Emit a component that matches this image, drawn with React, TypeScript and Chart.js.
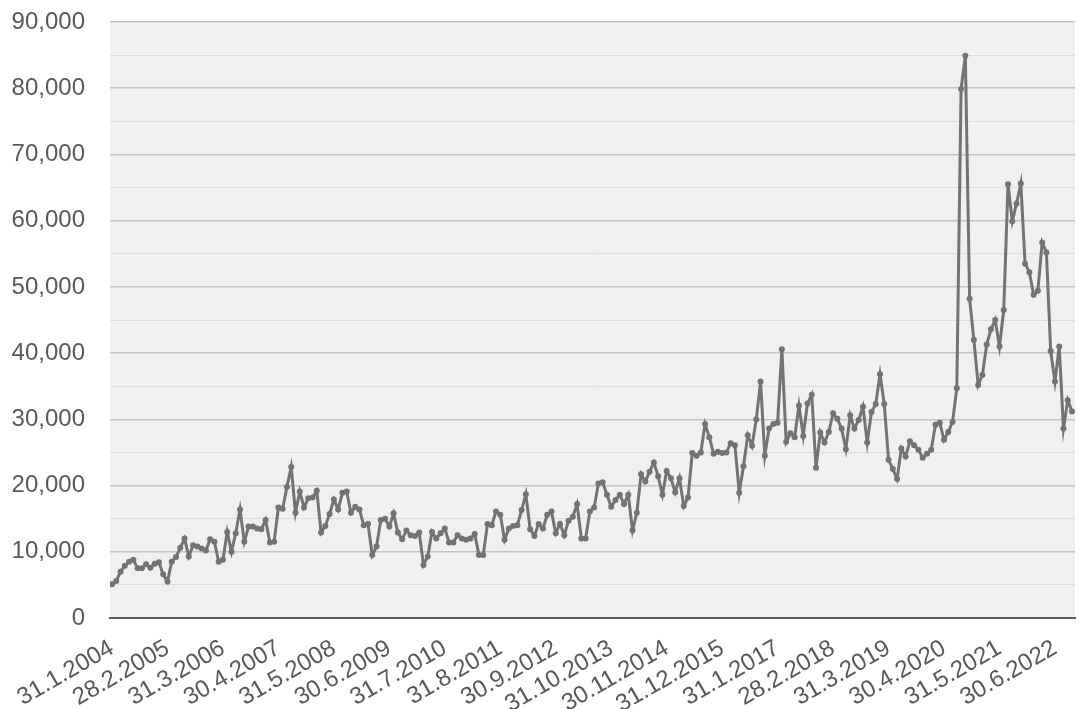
import React, { useEffect, useRef } from "react";
import { Chart, registerables } from "chart.js";

Chart.register(...registerables);

// Monthly values, Jan 2004 – Oct 2022
const values2004to2008 = [
  5100, 5600, 7000, 7900, 8500, 8800, 7500, 7500, 8100, 7600,
  8200, 8400, 6600, 5500, 8500, 9200, 10600, 12000, 9300, 11000,
  10800, 10500, 10200, 11900, 11500, 8500, 8800, 13000, 10000, 12800,
  16400, 11500, 13800, 13800, 13500, 13400, 14800, 11400, 11500, 16700,
  16500, 19800, 22800, 15900, 19100, 16700, 18100, 18200, 19200, 12900,
  13900, 15700, 17900, 16400, 18900, 19100, 15900,
];
const values2008to2013 = [
  16800, 16400, 14000, 14200, 9500, 10800, 14800, 15000, 13800, 15800,
  12900, 11900, 13200, 12500, 12400, 12900, 8000, 9300, 13000, 12000,
  12800, 13500, 11400, 11400, 12500, 12000, 11800, 12000, 12700, 9500,
  9500, 14200, 14000, 16100, 15600, 11800, 13500, 13900, 14000, 16300,
  18700, 13400, 12400, 14200, 13500, 15600, 16100, 12800, 14200, 12500,
  14700, 15300, 17200, 12000, 12000, 16100, 16700,
];
const values2013to2017 = [
  20300, 20500, 18600, 16800, 17800, 18600, 17200, 18600, 13200, 15900,
  21700, 20600, 22100, 23500, 21400, 18600, 22200, 21100, 19000, 21100,
  16900, 18200, 24900, 24500, 25000, 29300, 27300, 24800, 25100, 24900,
  25000, 26400, 26100, 18900, 22900, 27600, 26000, 30000, 35700, 24500,
  28600, 29300, 29500, 40600, 26600, 27900, 27300, 32100, 27500, 32400,
  33700, 22700, 28000, 26500, 28100, 30900,
];
const values2018to2022 = [
  30100, 28600, 25500, 30600, 28600, 29900, 31900, 26500, 31100, 32300,
  36800, 32300, 23900, 22500, 21000, 25600, 24400, 26700, 26100, 25400,
  24200, 24800, 25400, 29200, 29500, 26900, 28100, 29600, 34700, 79900,
  84900, 48200, 42000, 35200, 36700, 41300, 43600, 45000, 41000, 46500,
  65500, 59900, 62600, 65600, 53500, 52200, 48800, 49400, 56700, 55200,
  40300, 35700, 41000, 28600, 32900, 31200,
];

const tickLabels = [
  "31.1.2004", "28.2.2005", "31.3.2006", "30.4.2007", "31.5.2008", "30.6.2009",
  "31.7.2010", "31.8.2011", "30.9.2012", "31.10.2013", "30.11.2014", "31.12.2015",
  "31.1.2017", "28.2.2018", "31.3.2019", "30.4.2020", "31.5.2021", "30.6.2022",
];
const monthsPerTick = 13;

const values = [
  ...values2004to2008,
  ...values2008to2013,
  ...values2013to2017,
  ...values2018to2022,
];

export default function App() {
  const ref = useRef<HTMLCanvasElement>(null);

  useEffect(() => {
    document.body.style.margin = "0";
    const canvas = ref.current;
    if (!canvas) return;

    const plotBg = {
      id: "plotBg",
      beforeDraw(chart: any) {
        const { ctx, chartArea: a } = chart;
        ctx.save();
        ctx.fillStyle = "#f0f0f0";
        ctx.fillRect(a.left, a.top, a.right - a.left, a.bottom - a.top);
        ctx.restore();
      },
    };

    const lineColor = "#737373";
    const textColor = "#595959";

    const chart = new Chart(canvas, {
      type: "line",
      data: {
        datasets: [
          {
            data: values.map((v, i) => ({ x: i, y: v })),
            borderColor: lineColor,
            backgroundColor: lineColor,
            borderWidth: 3,
            pointRadius: 3,
            pointBorderWidth: 0,
            pointBackgroundColor: lineColor,
            tension: 0,
          },
        ],
      },
      options: {
        animation: false,
        responsive: false,
        layout: { padding: { top: 22, right: 0, left: 0, bottom: 0 } },
        plugins: {
          legend: { display: false },
          tooltip: { enabled: false },
        },
        scales: {
          x: {
            type: "linear",
            min: -0.47,
            max: values.length - 1 + 0.7,
            grid: { display: false, drawTicks: false },
            border: { display: true, color: "#5a5a5a", width: 2 },
            afterBuildTicks: (scale: any) => {
              scale.ticks = tickLabels.map((_, k) => ({ value: k * monthsPerTick }));
            },
            afterFit: (scale: any) => {
              scale.height = 91;
              scale.paddingRight = 0;
            },
            ticks: {
              autoSkip: false,
              minRotation: 30,
              maxRotation: 30,
              padding: 16,
              color: textColor,
              font: { family: "'Liberation Sans', Arial, sans-serif", size: 24 },
              callback: (_v: any, index: number) => tickLabels[index] ?? "",
            },
          },
          y: {
            min: 0,
            max: 90000,
            border: { display: false },
            grid: {
              drawTicks: false,
              color: (ctx: any) =>
                ctx.tick && ctx.tick.value % 10000 === 0 ? "#c4c4c4" : "#dcdcdc",
              lineWidth: (ctx: any) =>
                ctx.tick && ctx.tick.value % 10000 === 0 ? 1.5 : 1,
            },
            afterFit: (scale: any) => {
              scale.width = 110;
              scale.paddingTop = 0;
              scale.paddingBottom = 0;
            },
            ticks: {
              stepSize: 5000,
              padding: 25,
              color: textColor,
              font: { family: "'Liberation Sans', Arial, sans-serif", size: 24 },
              callback: (v: any) =>
                Number(v) % 10000 === 0 ? Number(v).toLocaleString("en-US") : "",
            },
          },
        },
      },
      plugins: [plotBg],
    });

    return () => chart.destroy();
  }, []);

  return (
    <div
      style={{
        position: "fixed",
        left: 0,
        top: 0,
        width: 1079,
        height: 709,
        background: "#ffffff",
      }}
    >
      <canvas ref={ref} width={1079} height={709} style={{ display: "block" }} />
    </div>
  );
}
